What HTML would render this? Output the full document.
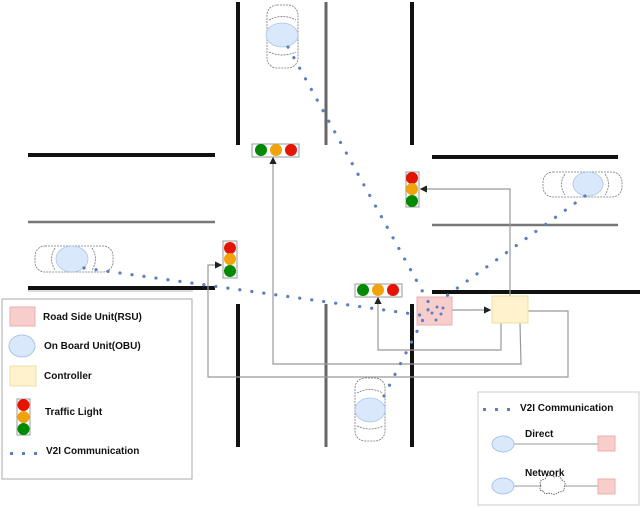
<!DOCTYPE html>
<html><head><meta charset="utf-8"><style>
html,body{margin:0;padding:0;background:#fff;}
svg{display:block;font-family:"Liberation Sans",sans-serif;}
</style></head><body>
<svg width="640" height="507" viewBox="0 0 640 507" xmlns="http://www.w3.org/2000/svg">
<defs>
<marker id="ar" markerWidth="6" markerHeight="6" refX="5" refY="3" orient="auto"><path d="M0,0 L6,3 L0,6z" fill="#222"/></marker>
</defs>
<g stroke="#111" stroke-width="4">
<line x1="238" y1="2" x2="238" y2="145"/><line x1="412" y1="2" x2="412" y2="145"/>
<line x1="238" y1="304" x2="238" y2="447"/><line x1="412" y1="304" x2="412" y2="447"/>
<line x1="28" y1="155" x2="215" y2="155"/><line x1="28" y1="288" x2="215" y2="288"/>
<line x1="432" y1="157" x2="618" y2="157"/><line x1="432" y1="292" x2="640" y2="292"/>
</g>
<g stroke="#666" stroke-width="3">
<line x1="326" y1="2" x2="326" y2="145"/><line x1="326" y1="304" x2="326" y2="447"/>
</g>
<g stroke="#777" stroke-width="2.5">
<line x1="28" y1="222" x2="215" y2="222"/><line x1="432" y1="225" x2="618" y2="225"/>
</g>
<line x1="28" y1="291" x2="193" y2="291" stroke="#bbb" stroke-width="1"/>
<g stroke="#999" stroke-width="1.2" fill="none">
<polyline points="510,296 510,189 421,189" marker-end="url(#ar)"/>
<polyline points="501,323 501,350 378,350 378,298" marker-end="url(#ar)"/>
<polyline points="520,323 521,364 273,364 273,158" marker-end="url(#ar)"/>
<polyline points="528,311 568,311 568,377 208,377 208,265 221,265" marker-end="url(#ar)"/>
<line x1="452" y1="310" x2="490" y2="310" marker-end="url(#ar)"/>
</g>
<rect x="417" y="297" width="35" height="28" fill="#f8cecc" stroke="#e8b0ae"/>
<rect x="492" y="296" width="36" height="27" fill="#fff2cc" stroke="#f0dca0"/>
<g>
<rect x="252" y="144" width="47" height="13" fill="#fff" stroke="#999"/>
<circle cx="261" cy="150" r="6" fill="#008a00"/><circle cx="276" cy="150" r="6" fill="#f0a30a"/><circle cx="291" cy="150" r="6" fill="#e51400"/>
<rect x="355" y="284" width="47" height="13" fill="#fff" stroke="#999"/>
<circle cx="363" cy="290" r="6" fill="#008a00"/><circle cx="378" cy="290" r="6" fill="#f0a30a"/><circle cx="393" cy="290" r="6" fill="#e51400"/>
<rect x="223" y="241" width="14" height="37" fill="#fff" stroke="#999"/>
<circle cx="230" cy="248" r="6" fill="#e51400"/><circle cx="230" cy="259" r="6" fill="#f0a30a"/><circle cx="230" cy="271" r="6" fill="#008a00"/>
<rect x="406" y="172" width="13" height="35" fill="#fff" stroke="#999"/>
<circle cx="412" cy="178" r="6" fill="#e51400"/><circle cx="412" cy="189" r="6" fill="#f0a30a"/><circle cx="412" cy="201" r="6" fill="#008a00"/>
</g>
<g fill="none" stroke="#777" stroke-width="0.8" stroke-dasharray="2,1">
<rect x="35" y="246" width="78" height="26" rx="10"/><path d="M55,248 Q48,259 55,270 M92,248 Q99,259 92,270"/>
<rect x="267" y="5" width="31" height="63" rx="10"/><path d="M269,20 Q282,13 296,20 M269,52 Q282,58 296,52"/>
<rect x="543" y="172" width="79" height="25" rx="10"/><path d="M565,174 Q558,184 565,195 M605,174 Q612,184 605,195"/>
<rect x="355" y="378" width="30" height="63" rx="10"/><path d="M357,393 Q370,386 383,393 M357,426 Q370,432 383,426"/>
</g>
<g fill="#dae8fc" stroke="#a9c4eb" stroke-width="0.8">
<ellipse cx="72" cy="259" rx="16" ry="13"/>
<ellipse cx="282" cy="35" rx="16" ry="12"/>
<ellipse cx="588" cy="184" rx="15" ry="12"/>
<ellipse cx="370" cy="410" rx="15" ry="12"/>
</g>
<g stroke="#5b7fc0" stroke-width="3.2" stroke-dasharray="0.1,12" stroke-linecap="round" fill="none">
<line x1="84" y1="268" x2="420" y2="315"/>
<line x1="288" y1="47" x2="430" y2="305"/>
<line x1="585" y1="196" x2="438" y2="302"/>
<line x1="384" y1="396" x2="433" y2="300"/>
</g>
<g fill="#5b7fc0"><circle cx="432" cy="313" r="1.5"/><circle cx="437" cy="307" r="1.5"/><circle cx="441" cy="314" r="1.5"/><circle cx="436" cy="320" r="1.5"/><circle cx="443" cy="308" r="1.5"/></g>
<rect x="2" y="299" width="190" height="180" fill="#fff" stroke="#aaa"/>
<rect x="10" y="307" width="25" height="19" fill="#f8cecc" stroke="#e8b0ae"/>
<ellipse cx="22" cy="346" rx="13" ry="11" fill="#dae8fc" stroke="#a9c4eb"/>
<rect x="10" y="366" width="26" height="20" fill="#fff2cc" stroke="#f0dca0"/>
<rect x="17" y="399" width="13" height="36" fill="#fff" stroke="#999"/>
<circle cx="23.5" cy="405" r="6" fill="#e51400"/><circle cx="23.5" cy="417" r="6" fill="#f0a30a"/><circle cx="23.5" cy="429" r="6" fill="#008a00"/>
<g fill="#5b7fc0"><rect x="10" y="452" width="3" height="3"/><rect x="22" y="452" width="3" height="3"/><rect x="34" y="452" width="3" height="3"/></g>
<g font-size="10" font-weight="bold" fill="#111">
<text x="43" y="320">Road Side Unit(RSU)</text>
<text x="44" y="349">On Board Unit(OBU)</text>
<text x="44" y="379">Controller</text>
<text x="45" y="415">Traffic Light</text>
<text x="46" y="454">V2I Communication</text>
</g>
<rect x="478" y="392" width="161" height="113" fill="#fff" stroke="#ccc"/>
<g fill="#5b7fc0"><rect x="483" y="408" width="3" height="3"/><rect x="495" y="408" width="3" height="3"/><rect x="507" y="408" width="3" height="3"/></g>
<g font-size="10" font-weight="bold" fill="#111">
<text x="520" y="411">V2I Communication</text>
<text x="525" y="437">Direct</text>
<text x="525" y="476">Network</text>
</g>
<line x1="513" y1="444" x2="598" y2="444" stroke="#999"/>
<line x1="513" y1="486" x2="598" y2="486" stroke="#999"/>
<ellipse cx="503" cy="444" rx="11" ry="8" fill="#dae8fc" stroke="#a9c4eb"/>
<ellipse cx="503" cy="486" rx="11" ry="8" fill="#dae8fc" stroke="#a9c4eb"/>
<rect x="598" y="436" width="17" height="15" fill="#f8cecc" stroke="#e8b0ae"/>
<rect x="598" y="479" width="17" height="15" fill="#f8cecc" stroke="#e8b0ae"/>
<path d="M541,486 q-3,-6 4,-7 q3,-6 9,-2 q6,-2 8,3 q5,2 2,7 q1,5 -5,5 q-4,4 -9,1 q-6,2 -7,-2 q-5,0 -2,-5z" fill="#fff" stroke="#333" stroke-width="0.7" stroke-dasharray="1.5,1"/>
</svg>
</body></html>
